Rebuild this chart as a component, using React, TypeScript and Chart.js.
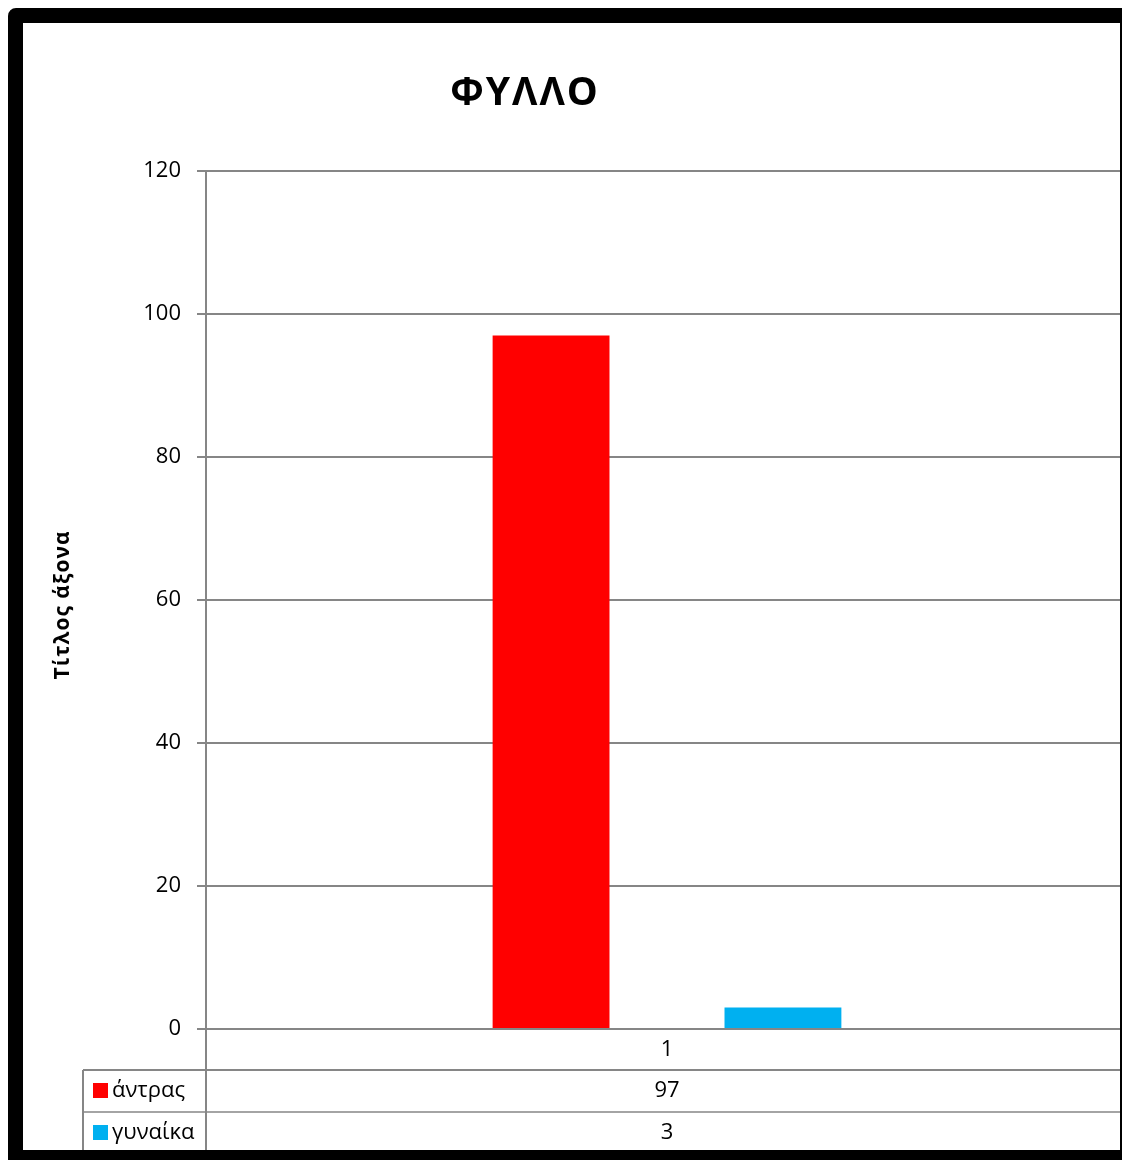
import React, { useEffect, useRef } from 'react';
import { Chart, registerables } from 'chart.js';

Chart.register(...registerables);

const chartTitle = 'ΦΥΛΛΟ';
const yAxisTitle = 'Τίτλος άξονα';
const categories = ['1'];
const seriesNames = ['άντρας', 'γυναίκα'];
const menValues = [97];
const womenValues = [3];
const seriesColors = ['#FF0000', '#00B0F0'];
const yMin = 0;
const yMax = 120;
const yStep = 20;

const GRID = '#868686';
const FONT = '"Open Sans", sans-serif';
const W = 1122;
const H = 1152;

const excelPlugin = {
  id: 'excelExtras',
  afterDraw(chart: any) {
    const { ctx, chartArea, scales } = chart;
    const xs = scales.x;
    ctx.save();
    // chart title
    ctx.font = `bold 39px ${FONT}`;
    ctx.fillStyle = '#000';
    ctx.textAlign = 'center';
    ctx.textBaseline = 'middle';
    (ctx as any).letterSpacing = '2px';
    ctx.fillText(chartTitle, 517, 86);
    ctx.restore();

    // y axis title
    ctx.save();
    ctx.translate(55, (chartArea.top + chartArea.bottom) / 2 + 5);
    ctx.rotate(-Math.PI / 2);
    ctx.font = `bold 21px ${FONT}`;
    ctx.fillStyle = '#000';
    ctx.textAlign = 'center';
    ctx.textBaseline = 'middle';
    (ctx as any).letterSpacing = '1px';
    ctx.fillText(yAxisTitle, 0, 0);
    ctx.restore();

    // data table
    ctx.save();
    const rowH = 42;
    const tableTop = chartArea.bottom + 41;
    const tableLeft = 75;
    const right = chart.width;
    ctx.strokeStyle = GRID;
    ctx.lineWidth = 2;
    ctx.beginPath();
    ctx.moveTo(tableLeft, tableTop);
    ctx.lineTo(right, tableTop);
    ctx.stroke();
    ctx.lineWidth = 1.5;
    ctx.beginPath();
    ctx.moveTo(tableLeft, tableTop + rowH);
    ctx.lineTo(right, tableTop + rowH);
    ctx.stroke();
    ctx.lineWidth = 2;
    ctx.beginPath();
    ctx.moveTo(tableLeft, tableTop);
    ctx.lineTo(tableLeft, chart.height);
    ctx.moveTo(chartArea.left, chartArea.bottom);
    ctx.lineTo(chartArea.left, chart.height);
    ctx.stroke();

    const datasets = chart.data.datasets;
    datasets.forEach((ds: any, i: number) => {
      const cy = tableTop + rowH * i + rowH / 2;
      ctx.fillStyle = ds.backgroundColor;
      ctx.fillRect(85, cy - 8, 15, 15);
      ctx.fillStyle = '#000';
      ctx.font = `22px ${FONT}`;
      ctx.textAlign = 'left';
      ctx.textBaseline = 'middle';
      ctx.fillText(ds.label, 104, cy);
      ctx.textAlign = 'center';
      ds.data.forEach((v: number, j: number) => {
        ctx.fillText(String(v), xs.getPixelForValue(j), cy);
      });
    });
    ctx.restore();
  },
};

export default function App() {
  const ref = useRef<HTMLCanvasElement>(null);
  useEffect(() => {
    document.documentElement.style.overflow = 'hidden';
    document.body.style.overflow = 'hidden';
    Chart.defaults.font.family = FONT;
    const chart = new Chart(ref.current!, {
      type: 'bar',
      data: {
        labels: categories,
        datasets: [
          { label: seriesNames[0], data: menValues, backgroundColor: seriesColors[0], categoryPercentage: 0.503, barPercentage: 0.504 },
          { label: seriesNames[1], data: womenValues, backgroundColor: seriesColors[1], categoryPercentage: 0.503, barPercentage: 0.504 },
        ],
      },
      options: {
        responsive: false,
        animation: false,
        devicePixelRatio: 1,
        layout: { padding: { top: 163, right: 2, bottom: 90, left: 0 } },
        plugins: {
          legend: { display: false },
          tooltip: { enabled: false },
          title: { display: false },
        },
        scales: {
          x: {
            grid: { display: false, drawTicks: false, tickLength: 0 },
            border: { display: false },
            ticks: { color: '#000', font: { size: 22 }, padding: 8 },
            afterFit: (s: any) => { s.height = 41; },
          },
          y: {
            min: yMin,
            max: yMax,
            ticks: { stepSize: yStep, color: '#000', font: { size: 22 }, padding: 16 },
            grid: { color: GRID, lineWidth: 2, tickLength: 9, drawTicks: true },
            border: { display: true, color: GRID, width: 2 },
            title: { display: false },
            afterFit: (s: any) => { s.width = 198; },
          },
        },
      },
      plugins: [excelPlugin],
    } as any);
    return () => chart.destroy();
  }, []);
  return (
    <div style={{ position: 'relative', width: W, height: H }}>
      <canvas ref={ref} width={W} height={H} style={{ display: 'block', width: W, height: H }} />
      <div
        style={{
          position: 'absolute',
          left: 0,
          top: 0,
          width: W,
          height: H,
          boxSizing: 'border-box',
          borderStyle: 'solid',
          borderColor: '#000',
          borderWidth: '15px 10px 10px 15px',
          borderTopLeftRadius: 8,
          pointerEvents: 'none',
        }}
      />
    </div>
  );
}
